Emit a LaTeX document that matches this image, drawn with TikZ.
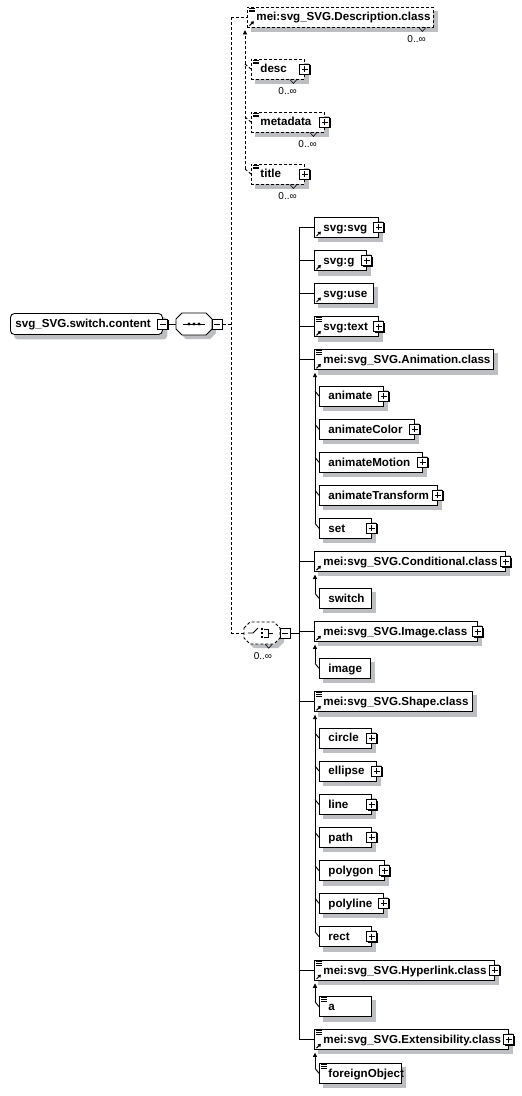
\documentclass[tikz,border=0pt]{standalone}
\usepackage{fontspec}
\setmainfont{Liberation Sans}
\usetikzlibrary{calc,arrows.meta}
\definecolor{shadowgray}{rgb}{0.74,0.745,0.76}
\pgfdeclarelayer{bgfill}
\pgfdeclarelayer{shadowl}
\pgfsetlayers{bgfill,shadowl,main}
\newcommand\elem[6]{%
  \pgfmathsetmacro\elw{#4-18}%
  \node[elembox,#5] (#1) at (#2,#3) {\makebox[\elw pt][l]{#6}};
  \begin{pgfonlayer}{shadowl}
    \fill[fill=shadowgray] ($(#1.north west)+(4,4)$) rectangle ($(#1.south east)+(4.5,4.5)$);
  \end{pgfonlayer}}
\newcommand\pmshadow[1]{\fill[black] ($(#1)+(-4,-4)$) rectangle ($(#1)+(6,6)$);}
\newcommand\plusbox[1]{%
  \pmshadow{#1.east}
  \node[pmbox] (#1p) at (#1.east) {};
  \draw[pmline] ($(#1p.center)+(-3,0)$) -- ($(#1p.center)+(3,0)$) ($(#1p.center)+(0,-3)$) -- ($(#1p.center)+(0,3)$);}
\newcommand\minusbox[3]{%
  \coordinate (#1c) at ($(#2)+(#3,0)$);
  \pmshadow{#1c}
  \node[pmbox] (#1) at (#1c) {};
  \draw[pmline] ($(#1.center)+(-3,0)$) -- ($(#1.center)+(3,0)$);}
\newcommand\docicon[1]{%
  \draw[line width=0.7pt] ($(#1.north west)+(2,1.5)$) -- ++(6,0) ($(#1.north west)+(2,3.3)$) -- ++(6,0) ($(#1.north west)+(2,5.1)$) -- ++(6,0);}
\newcommand\reficon[1]{%
  \draw[line width=1pt,-{Triangle[length=2.8pt,width=3.6pt]}] ($(#1.south west)+(2.5,-1.8)$) -- ++(4.4,-4.4);}
\newcommand\occ[1]{%
  \node[occlabel] (#1o) at ($(#1.south east)+(-8,15)$) {0..∞};
  \draw[line width=0.6pt] ($(#1.south east)+(-15,0)$) -- ++(3.5,4) -- ++(3.5,-4);}
\newcommand\octshape[2]{%
  \fill[fill=shadowgray] ($(#1.center)+(-14,-1)$) -- ($(#1.center)+(-8,-7)$) -- ($(#1.center)+(16,-7)$) -- ($(#1.center)+(22,-1)$) -- ($(#1.center)+(22,9)$) -- ($(#1.center)+(16,15)$) -- ($(#1.center)+(-8,15)$) -- ($(#1.center)+(-14,9)$) -- cycle;
  \draw[fill=white,line width=0.9pt,#2] ($(#1.center)+(-18,-5)$) -- ($(#1.center)+(-12,-11)$) -- ($(#1.center)+(12,-11)$) -- ($(#1.center)+(18,-5)$) -- ($(#1.center)+(18,5)$) -- ($(#1.center)+(12,11)$) -- ($(#1.center)+(-12,11)$) -- ($(#1.center)+(-18,5)$) -- cycle;}
\begin{document}
\begin{tikzpicture}[x=1pt,y=-1pt,
  elembox/.style={draw, fill=white, line width=0.9pt, minimum height=20pt, inner xsep=9pt, inner ysep=0pt,
    text height=7.8pt, text depth=0pt, anchor=west, font=\bfseries\fontsize{11.6pt}{13pt}\selectfont},
  optbox/.style={dash pattern=on 3pt off 2pt},
  pmbox/.style={draw, fill=white, line width=0.9pt, minimum size=10pt, inner sep=0pt},
  pmline/.style={line width=0.9pt},
  occlabel/.style={anchor=base east, inner sep=0pt, font=\fontsize{10pt}{12pt}\selectfont},
  compnode/.style={minimum width=36pt, minimum height=22pt, inner sep=0pt},
  conn/.style={line width=0.9pt},
  dconn/.style={conn, dash pattern=on 3pt off 2pt},
  upar/.style={-{Triangle[length=4.5pt,width=4pt]}}]
\useasboundingbox (0,0) rectangle (522,1096);
\begin{pgfonlayer}{bgfill}
\fill[white] (0,0) rectangle (522,1096);
\end{pgfonlayer}
\coordinate (dv) at (231,0);
\coordinate (mv) at (299,0);

% root and sequence
\node[elembox, rounded corners=4pt, inner xsep=5pt, minimum height=21pt] (root) at (10,324) {\makebox[142pt][l]{svg\_SVG.switch.content}};
\begin{pgfonlayer}{shadowl}
  \fill[fill=shadowgray, rounded corners=4pt] ($(root.north west)+(4,4)$) rectangle ($(root.south east)+(4.5,4.5)$);
\end{pgfonlayer}
\minusbox{rootm}{root.east}{0}
\node[compnode] (seq) at (194,324) {};
\octshape{seq}{}
\draw[line width=0.9pt] ($(seq.center)+(-11,0)$) -- ($(seq.center)+(11,0)$);
\foreach \dx in {-5,0,5} \fill ($(seq.center)+(\dx,0)$) circle (1.7pt);
\minusbox{seqm}{seq.east}{5}
\draw[conn] (rootm.east) -- (seq.west);

% choice
\node[compnode] (ch) at (262,633) {};
\octshape{ch}{dash pattern=on 3pt off 2pt}
\draw[line width=0.8pt] ($(ch.center)+(-14,0)$) -- ($(ch.center)+(-9,0)$) -- ($(ch.center)+(-4,-5)$);
\foreach \dy in {-4,0,4} \fill ($(ch.center)+(-1.3,\dy-1.3)$) rectangle ($(ch.center)+(1.3,\dy+1.3)$);
\draw[line width=0.8pt] ($(ch.center)+(2,-4)$) -- ($(ch.center)+(6,-4)$) -- ($(ch.center)+(6,4)$) -- ($(ch.center)+(2,4)$) ($(ch.center)+(6,0)$) -- ($(ch.center)+(11,0)$);
\minusbox{chm}{ch.east}{5}
\occ{ch}

% description group
\elem{descr}{247}{17}{186}{optbox}{mei:svg\_SVG.Description.class}
\docicon{descr}\reficon{descr}\occ{descr}
\elem{desc}{251}{69}{53}{optbox}{desc}
\plusbox{desc}\docicon{desc}\occ{desc}
\elem{metadata}{251}{122}{73}{optbox}{metadata}
\plusbox{metadata}\docicon{metadata}\occ{metadata}
\elem{title}{251}{174}{53}{optbox}{title}
\plusbox{title}\docicon{title}\occ{title}

\draw[dconn] (seqm.east) -- (seqm.east -| dv);
\draw[dconn] (dv |- descr.west) -- (dv |- ch.west);
\draw[dconn] (dv |- descr.west) -- (descr.west);
\draw[dconn] (dv |- ch.west) -- (ch.west);
\draw[dconn,upar] ($(title.west)+(-6,-5)$) -- ($(descr.south west)+(-2,2.5)$);
\foreach \n in {desc,metadata,title} \draw[dconn] ($(\n.west)+(-6,-5)$) -- (\n.west);

% choice members
\elem{svgsvg}{314}{227.3}{64}{}{svg:svg}
\plusbox{svgsvg}\reficon{svgsvg}
\elem{svgg}{314}{260.7}{52}{}{svg:g}
\plusbox{svgg}\reficon{svgg}
\elem{svguse}{314}{293.3}{59}{}{svg:use}
\reficon{svguse}
\elem{svgtext}{314}{326.7}{64}{}{svg:text}
\plusbox{svgtext}\reficon{svgtext}\docicon{svgtext}
\elem{anim}{314}{359.7}{179}{}{mei:svg\_SVG.Animation.class}
\reficon{anim}\docicon{anim}
\elem{animate}{319}{396}{64}{}{animate}\plusbox{animate}
\elem{animcolor}{319}{429.3}{95}{}{animateColor}\plusbox{animcolor}
\elem{animmotion}{319}{462.3}{103}{}{animateMotion}\plusbox{animmotion}
\elem{animtrans}{319}{495.3}{118}{}{animateTransform}\plusbox{animtrans}
\elem{setel}{319}{528.3}{52}{}{set}\plusbox{setel}
\elem{cond}{314}{561.5}{191}{}{mei:svg\_SVG.Conditional.class}
\plusbox{cond}\reficon{cond}
\elem{switchel}{319}{598.3}{52}{}{switch}
\elem{img}{314}{631.5}{163}{}{mei:svg\_SVG.Image.class}
\plusbox{img}\reficon{img}
\elem{image}{319}{668.3}{51}{}{image}
\elem{shape}{314}{701.7}{158}{}{mei:svg\_SVG.Shape.class}
\reficon{shape}\docicon{shape}
\elem{circleel}{319}{738}{52}{}{circle}\plusbox{circleel}
\elem{ellipse}{319}{771}{57}{}{ellipse}\plusbox{ellipse}
\elem{lineel}{319}{804.5}{52}{}{line}\plusbox{lineel}
\elem{pathel}{319}{837.3}{52}{}{path}\plusbox{pathel}
\elem{polygon}{319}{870.7}{65}{}{polygon}\plusbox{polygon}
\elem{polyline}{319}{903.3}{64}{}{polyline}\plusbox{polyline}
\elem{rectel}{319}{936.7}{52}{}{rect}\plusbox{rectel}
\elem{hyper}{314}{970.3}{180}{}{mei:svg\_SVG.Hyperlink.class}
\plusbox{hyper}\reficon{hyper}\docicon{hyper}
\elem{ael}{319}{1006.7}{52}{}{a}\docicon{ael}
\elem{ext}{314}{1039.5}{194}{}{mei:svg\_SVG.Extensibility.class}
\plusbox{ext}\reficon{ext}\docicon{ext}
\elem{fobj}{319}{1073.3}{82}{}{foreignObject}\docicon{fobj}

% main choice connectors
\draw[conn] (chm.east) -- (chm.east -| mv);
\draw[conn] (mv |- svgsvg.west) -- (mv |- ext.west);
\foreach \n in {svgsvg,svgg,svguse,svgtext,anim,cond,img,shape,hyper,ext}
  \draw[conn] (mv |- \n.west) -- (\n.west);

% sub-group connectors
\draw[conn,upar] ($(setel.west)+(-4,-5)$) -- ($(anim.south west)+(1,2.5)$);
\foreach \n in {animate,animcolor,animmotion,animtrans,setel} \draw[conn] ($(\n.west)+(-4,-5)$) -- (\n.west);
\draw[conn,upar] ($(switchel.west)+(-4,-5)$) -- ($(cond.south west)+(1,2.5)$);
\draw[conn] ($(switchel.west)+(-4,-5)$) -- (switchel.west);
\draw[conn,upar] ($(image.west)+(-4,-5)$) -- ($(img.south west)+(1,2.5)$);
\draw[conn] ($(image.west)+(-4,-5)$) -- (image.west);
\draw[conn,upar] ($(rectel.west)+(-4,-5)$) -- ($(shape.south west)+(1,2.5)$);
\foreach \n in {circleel,ellipse,lineel,pathel,polygon,polyline,rectel} \draw[conn] ($(\n.west)+(-4,-5)$) -- (\n.west);
\draw[conn,upar] ($(ael.west)+(-4,-5)$) -- ($(hyper.south west)+(1,2.5)$);
\draw[conn] ($(ael.west)+(-4,-5)$) -- (ael.west);
\draw[conn,upar] ($(fobj.west)+(-4,-5)$) -- ($(ext.south west)+(1,2.5)$);
\draw[conn] ($(fobj.west)+(-4,-5)$) -- (fobj.west);
\end{tikzpicture}
\end{document}
